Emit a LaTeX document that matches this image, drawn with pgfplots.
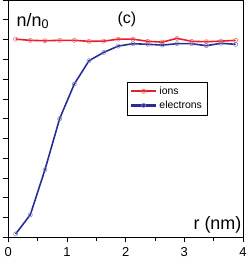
\documentclass[border=0pt]{standalone}
\usepackage{fontspec}
\setmainfont{Liberation Sans}
\usepackage{pgfplots}
\pgfplotsset{compat=1.18}
\definecolor{ionred}{RGB}{235,30,40}
\definecolor{elblue}{RGB}{40,45,150}
\begin{document}
\begin{tikzpicture}
\begin{axis}[
  scale only axis, width=234.7bp, height=237.3bp,
  at={(0,0)}, anchor=south west,
  xmin=0, xmax=4, ymin=0, ymax=1.2,
  xtick={0,1,2,3,4}, minor xtick={0.5,1.5,2.5,3.5},
  ytick={0,0.1,...,1.2}, yticklabels={},
  tick align=outside, xtick pos=bottom, ytick pos=left,
  major tick length=5bp, minor tick length=3.5bp,
  every tick/.style={black, line width=0.6pt},
  axis line style={line width=0.7pt},
  /pgf/number format/assume math mode=true,
  tick label style={font=\fontsize{13}{14}\selectfont},
  xticklabel style={yshift=-2bp},
  legend style={at={(0.504,0.656)}, anchor=north west, font=\fontsize{10.5}{12}\selectfont,
    draw=black, inner xsep=3bp, inner ysep=3bp, row sep=1bp},
  legend cell align=left,
]
\addlegendimage{legend image code/.code={\draw[ionred, line width=2.2pt] (0cm,0cm) -- (0.9cm,0cm); \draw[ionred!70, line width=0.6pt] (0.45cm,0cm) circle[radius=2.1pt];}}
\addlegendentry{ions}
\addlegendimage{legend image code/.code={\draw[elblue, line width=2.2pt] (0cm,0cm) -- (0.9cm,0cm); \draw[elblue!60, line width=0.6pt] (0.45cm,0cm) circle[radius=2.1pt];}}
\addlegendentry{electrons}
\addplot[ionred, line width=1.6pt, mark=o, mark size=2.1pt, mark options={line width=0.5pt, fill=none, draw=ionred!70}, forget plot] coordinates {
(0.125,1.002)(0.375,0.996)(0.625,0.994)(0.875,0.996)(1.125,0.996)(1.375,0.991)(1.625,0.992)(1.875,1.002)
(2.125,1.002)(2.375,0.991)(2.625,0.987)(2.875,1.006)(3.125,0.991)(3.375,0.989)(3.625,0.992)(3.875,0.996)};
\addplot[elblue, line width=1.6pt, mark=o, mark size=2.1pt, mark options={line width=0.5pt, fill=none, draw=elblue!60}, forget plot] coordinates {
(0.125,0.017)(0.375,0.114)(0.625,0.342)(0.875,0.600)(1.125,0.775)(1.375,0.893)(1.625,0.935)(1.875,0.967)
(2.125,0.979)(2.375,0.976)(2.625,0.972)(2.875,0.979)(3.125,0.979)(3.375,0.969)(3.625,0.981)(3.875,0.976)};
\node[anchor=base west, font=\fontsize{18}{20}\selectfont, inner sep=0pt] at (axis cs:0.14,1.068) {n/n\textsubscript{0}};
\node[anchor=center, font=\fontsize{16}{18}\selectfont, inner sep=0pt] at (axis cs:2.02,1.10) {(c)};
\node[anchor=base east, font=\fontsize{18}{20}\selectfont, inner sep=0pt] at (axis cs:3.976,0.040) {r (nm)};
\end{axis}
\pgfresetboundingbox
\path[use as bounding box] (-8.3bp,-29.7bp) rectangle (240.7bp,237.3bp);
\end{tikzpicture}
\end{document}
